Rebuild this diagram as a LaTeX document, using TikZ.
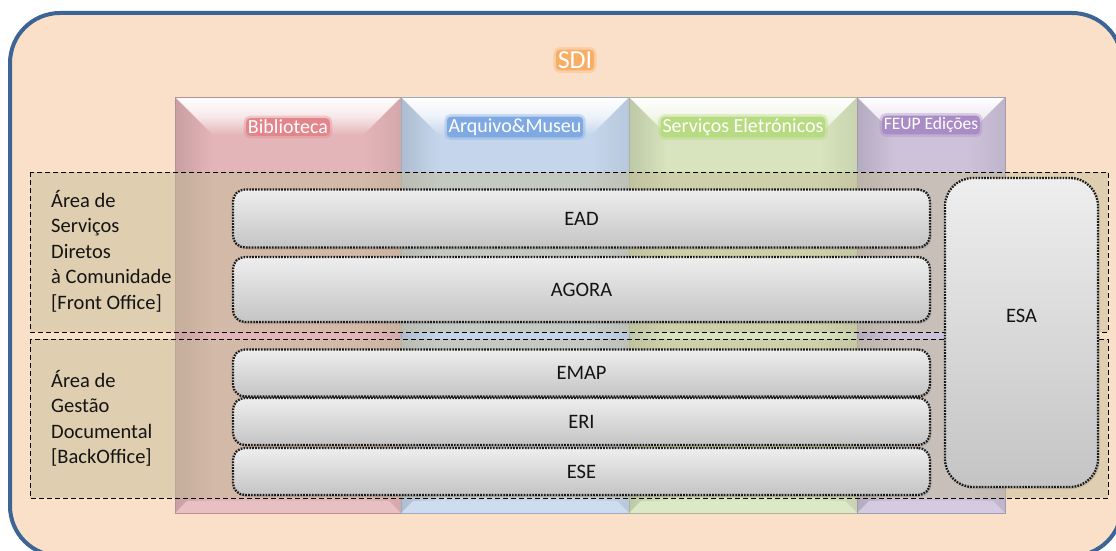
\documentclass[tikz,border=0pt]{standalone}
\usepackage{fontspec}
\setmainfont{Carlito}
\usetikzlibrary{shadows}
\definecolor{peach}{HTML}{FBE0C9}
\definecolor{outerblue}{HTML}{3C6494}
\definecolor{colpink}{HTML}{E4B5B8}
\definecolor{colblue}{HTML}{C5D6EC}
\definecolor{colgreen}{HTML}{D7E4BD}
\definecolor{colpurple}{HTML}{CDC2DA}
\definecolor{areatan}{HTML}{C4BD97}
\definecolor{boxtop}{HTML}{EEEEEE}
\definecolor{boxbot}{HTML}{C4C4C4}
\definecolor{textc}{HTML}{141414}
\definecolor{glowsdi}{HTML}{F9AE66}
\definecolor{glowpink}{HTML}{E3868B}
\definecolor{glowblue}{HTML}{7FA9E3}
\definecolor{glowgreen}{HTML}{B6DB80}
\definecolor{glowpurple}{HTML}{A98CC6}
\newcommand\bevelcol[3]{%
  \fill[#3] (#1,97) rectangle (#2,513);
  \shade[left color=#3!88!black, right color=#3] (#1,97) -- ({#1+38},135) -- ({#1+38},500) -- (#1,513) -- cycle;
  \shade[right color=#3!93!black, left color=#3] (#2,97) -- ({#2-38},135) -- ({#2-38},500) -- (#2,513) -- cycle;
  \shade[top color=white, bottom color=#3, middle color=#3!30!white] (#1,97) -- (#2,97) -- ({#2-38},135) -- ({#1+38},135) -- cycle;
  \fill[#3!85!white] (#1,513) -- ({#1+12},501) -- ({#2-12},501) -- (#2,513) -- cycle;
  \draw[#3!80!black, line width=0.5pt] (#1,97) rectangle (#2,513);
}
\begin{document}
\begin{tikzpicture}[x=1pt,y=-1pt,
  graybox/.style={draw=black!90, line width=2.3pt, dash pattern=on 1.7pt off 1.2pt,
    rounded corners=12pt, top color=boxtop, bottom color=boxbot,
    font=\fontsize{20.5}{24}\selectfont, text=textc, inner sep=0pt,
    drop shadow={shadow xshift=1.5pt, shadow yshift=-2pt, opacity=.25}},
  area/.style={draw=black, line width=0.9pt, dash pattern=on 5pt off 3pt},
  areafill/.style={fill=areatan, fill opacity=0.5},
  arealabel/.style={align=left, text=textc, inner sep=0pt,
    font=\fontsize{20.5}{25.5}\selectfont},
  glowlab/.style={text=white, fill=#1, rounded corners=4pt, inner sep=1.8pt,
    preaction={draw=#1, draw opacity=.35, line width=5pt}},
  collab/.style={glowlab=#1, font=\fontsize{20}{24}\selectfont},
]
\useasboundingbox (0,0) rectangle (1116,551);
\clip (0,0) rectangle (1116,551);
\fill[white] (0,0) rectangle (1116,551);
% outer SDI container
\draw[line width=4pt, draw=outerblue, fill=peach, rounded corners=50pt] (10,13) rectangle (1122,556);
\node[glowlab=glowsdi, font=\fontsize{26}{30}\selectfont] (sdi) at (575,60) {SDI};
% columns
\bevelcol{175}{401}{colpink}
\bevelcol{401}{629}{colblue}
\bevelcol{629}{857}{colgreen}
\bevelcol{857}{1005}{colpurple}
\node[collab=glowpink] (bib) at (288,127) {Biblioteca};
\node[collab=glowblue] (arq) at (515,127) {Arquivo\&Museu};
\node[collab=glowgreen] (serv) at (743,127) {Serviços Eletrónicos};
\node[glowlab=glowpurple, font=\fontsize{17.5}{21}\selectfont] (feup) at (931,125) {FEUP Edições};
% areas
\fill[areafill] (30,172) rectangle (1108,332);
\fill[areafill] (30,339) rectangle (1108,498);
\draw[area] (30,172) rectangle (1108,332);
\draw[area] (30,339) rectangle (1108,498);
\node[arealabel, anchor=north west] (front) at (51,190) {Área de\\Serviços\\Diretos\\à Comunidade\\{[Front Office]}};
\node[arealabel, anchor=north west] (back) at (51,370) {Área de\\Gestão\\Documental\\{[BackOffice]}};
% systems
\node[graybox, minimum width=697pt, minimum height=58pt] (ead) at (581.5,218.5) {EAD};
\node[graybox, minimum width=697pt, minimum height=65pt] (agora) at (581.5,289.5) {AGORA};
\node[graybox, minimum width=697pt, minimum height=47pt] (emap) at (581.5,373) {EMAP};
\node[graybox, minimum width=697pt, minimum height=47pt] (eri) at (581.5,421.5) {ERI};
\node[graybox, minimum width=697pt, minimum height=47pt] (ese) at (581.5,471.5) {ESE};
\node[graybox, rounded corners=28pt, minimum width=153pt, minimum height=309pt] (esa) at (1021.5,332.5) {};
\node[font=\fontsize{20.5}{24}\selectfont, text=textc] (esalab) at (1021.5,316) {ESA};
\end{tikzpicture}
\end{document}
